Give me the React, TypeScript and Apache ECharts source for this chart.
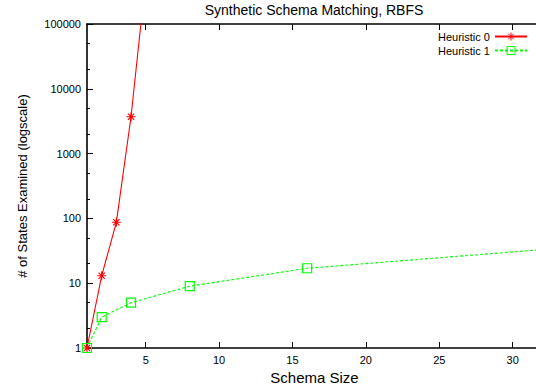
import React, { useEffect, useRef } from 'react';
import * as echarts from 'echarts';

const titleText = 'Synthetic Schema Matching, RBFS';
const xAxisName = 'Schema Size';
const yAxisName = '# of States Examined (logscale)';
const seriesNames = ['Heuristic 0', 'Heuristic 1'];
const sizes0 = [1, 2, 3, 4, 5];
const states0 = [1, 13, 87, 3700, 500000];
const sizes1 = [1, 2, 4, 8, 16, 32];
const states1 = [1, 3, 5, 9, 17, 33];
const xTicks = [5, 10, 15, 20, 25, 30];
const yMajorTicks = [1, 10, 100, 1000, 10000, 100000];
const yMinorTicks = [2, 5, 20, 50, 200, 500, 2000, 5000, 20000, 50000];

const font = '"Liberation Sans", Arial, Helvetica, sans-serif';
const starPath = 'path://M0,5L10,5M5,0L5,10M1.5,1.5L8.5,8.5M8.5,1.5L1.5,8.5';
const squarePath = 'path://M0,0L10,0L10,10L0,10Z';

export default function App() {
  const ref = useRef<HTMLDivElement>(null);
  useEffect(() => {
    if (!ref.current) return;
    const chart = echarts.init(ref.current, null, { renderer: 'svg' });
    const axisLine = { show: true, lineStyle: { color: '#000', width: 1.6 } };
    const option: any = {
      animation: false,
      textStyle: { fontFamily: font },
      title: {
        text: titleText,
        left: 314,
        top: 3,
        padding: 0,
        textAlign: 'center',
        textStyle: { fontSize: 14, fontWeight: 'normal', color: '#000', fontFamily: font },
      },
      legend: {
        data: seriesNames,
        orient: 'vertical',
        right: 8,
        top: 30,
        align: 'right',
        itemWidth: 32,
        itemHeight: 10,
        itemGap: 1,
        padding: 0,
        itemStyle: { borderWidth: 1 },
        textStyle: { fontSize: 11, color: '#000', fontFamily: font },
      },
      grid: { left: 87, right: -6, top: 24, bottom: 39, containLabel: false, outerBoundsMode: 'none' },
      xAxis: [
        {
          type: 'value',
          position: 'bottom',
          min: 1,
          max: 32,
          name: xAxisName,
          nameLocation: 'middle',
          nameGap: 17,
          nameTextStyle: { fontSize: 15, color: '#000', fontFamily: font },
          axisLine,
          axisTick: { show: true, inside: true, length: 6, customValues: xTicks, lineStyle: { color: '#000' } },
          axisLabel: { customValues: xTicks, fontSize: 11, color: '#000', margin: 6, fontFamily: font },
          splitLine: { show: false },
        },
        {
          type: 'value',
          position: 'top',
          min: 1,
          max: 32,
          axisLine,
          axisTick: { show: true, inside: true, length: 6, customValues: xTicks, lineStyle: { color: '#000' } },
          axisLabel: { show: false },
          splitLine: { show: false },
        },
      ],
      yAxis: [
        {
          type: 'log',
          logBase: 10,
          min: 1,
          max: 100000,
          position: 'left',
          name: yAxisName,
          nameLocation: 'middle',
          nameGap: 58,
          nameRotate: 90,
          nameTextStyle: { fontSize: 13, color: '#000', fontFamily: font },
          axisLine,
          axisTick: { show: true, inside: true, length: 6, customValues: yMajorTicks, lineStyle: { color: '#000' } },
          axisLabel: {
            customValues: yMajorTicks,
            formatter: (v: number) => String(Math.round(v)),
            fontSize: 11,
            color: '#000',
            margin: 6,
            fontFamily: font,
          },
          splitLine: { show: false },
        },
        {
          type: 'log',
          logBase: 10,
          min: 1,
          max: 100000,
          position: 'left',
          axisLine: { show: false },
          axisTick: { show: true, inside: true, length: 3, customValues: yMinorTicks, lineStyle: { color: '#000' } },
          axisLabel: { show: false },
          splitLine: { show: false },
        },
      ],
      series: [
        {
          name: seriesNames[0],
          type: 'line',
          data: sizes0.map((x, i) => [x, states0[i]]),
          symbol: starPath,
          symbolSize: 9,
          showAllSymbol: true,
          clip: true,
          itemStyle: { color: 'none', borderColor: '#ff0000', borderWidth: 1.1 },
          lineStyle: { color: '#ff0000', width: 1.1 },
          emphasis: { disabled: true },
        },
        {
          name: seriesNames[1],
          type: 'line',
          data: sizes1.map((x, i) => [x, states1[i]]),
          symbol: squarePath,
          symbolSize: 9,
          showAllSymbol: true,
          clip: true,
          itemStyle: { color: 'none', borderColor: '#00ff00', borderWidth: 1.2 },
          lineStyle: { color: '#00ff00', width: 1.1, type: [3, 2] },
          emphasis: { disabled: true },
        },
      ],
    };
    chart.setOption(option);
    return () => chart.dispose();
  }, []);
  return <div ref={ref} style={{ position: 'absolute', left: 0, top: 0, width: 536, height: 387 }} />;
}
